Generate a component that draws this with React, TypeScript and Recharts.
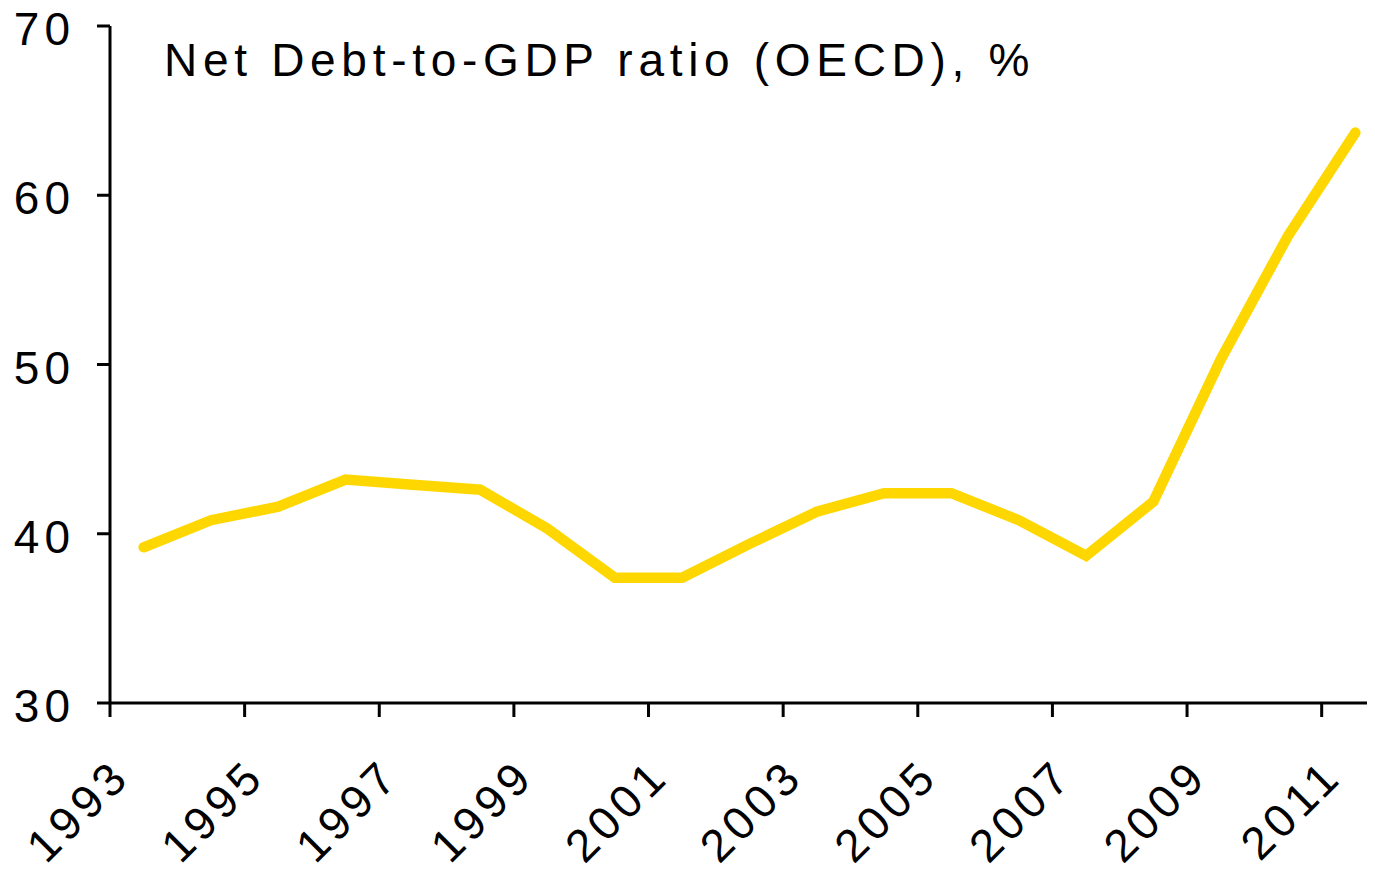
import { LineChart, Line, XAxis, YAxis } from "recharts";

const years = [
  1993, 1994, 1995, 1996, 1997, 1998, 1999, 2000, 2001, 2002,
  2003, 2004, 2005, 2006, 2007, 2008, 2009, 2010, 2011,
];
const netDebt = [
  39.2, 40.8, 41.6, 43.2, 42.9, 42.6, 40.3, 37.4, 37.4, 39.4,
  41.3, 42.4, 42.4, 40.8, 38.7, 41.9, 50.3, 57.6, 63.7,
];
// tick marks sit between categories, labels every other year
const xTicks = [1992.5, 1994.5, 1996.5, 1998.5, 2000.5, 2002.5, 2004.5, 2006.5, 2008.5, 2010.5];
const yTicks = [30, 40, 50, 60, 70];
const title = "Net Debt-to-GDP ratio (OECD), %";

const data = years.map((year, i) => ({ year, value: netDebt[i] }));

const FONT = '"Liberation Sans", Arial, sans-serif';
const FONT_SIZE = 46;
const SPACING = 5;

function XTick(props: any) {
  const { x, y, payload } = props;
  const ax = x + 19 + SPACING * 0.7;
  const ay = y + 63 - SPACING * 0.7;
  return (
    <text
      x={ax}
      y={ay}
      transform={`rotate(-45, ${ax}, ${ay})`}
      textAnchor="end"
      fontFamily={FONT}
      fontSize={FONT_SIZE}
      letterSpacing={SPACING}
      fill="#000"
    >
      {payload.value + 0.5}
    </text>
  );
}

function YTick(props: any) {
  const { x, y, payload } = props;
  return (
    <text
      x={x - 20}
      y={y + 19}
      textAnchor="end"
      fontFamily={FONT}
      fontSize={FONT_SIZE}
      letterSpacing={SPACING}
      fill="#000"
    >
      {payload.value}
    </text>
  );
}

export default function App() {
  return (
    <div
      style={{
        position: "relative",
        margin: -8,
        width: 1375,
        height: 873,
        overflow: "hidden",
        background: "#fff",
      }}
    >
      <LineChart
        width={1400}
        height={873}
        data={data}
        margin={{ top: 26, right: 11, bottom: 0, left: 0 }}
      >
        <XAxis
          dataKey="year"
          type="number"
          domain={[1992.5, 2011.5]}
          ticks={xTicks}
          interval={0}
          height={170}
          tickSize={14}
          tickMargin={2}
          axisLine={{ stroke: "#000", strokeWidth: 3 }}
          tickLine={{ stroke: "#000", strokeWidth: 3 }}
          tick={<XTick />}
        />
        <YAxis
          type="number"
          domain={[30, 70]}
          ticks={yTicks}
          interval={0}
          width={110}
          tickSize={13}
          tickMargin={2}
          axisLine={{ stroke: "#000", strokeWidth: 3 }}
          tickLine={{ stroke: "#000", strokeWidth: 3 }}
          tick={<YTick />}
        />
        <Line
          type="linear"
          dataKey="value"
          stroke="#FFD700"
          strokeWidth={10.5}
          strokeLinecap="round"
          dot={false}
          activeDot={false}
          isAnimationActive={false}
        />
      </LineChart>
      <div
        style={{
          position: "absolute",
          left: 164,
          top: 37,
          fontFamily: FONT,
          fontSize: FONT_SIZE,
          lineHeight: 1,
          letterSpacing: 5.7,
          whiteSpace: "nowrap",
          color: "#000",
        }}
      >
        {title}
      </div>
    </div>
  );
}
